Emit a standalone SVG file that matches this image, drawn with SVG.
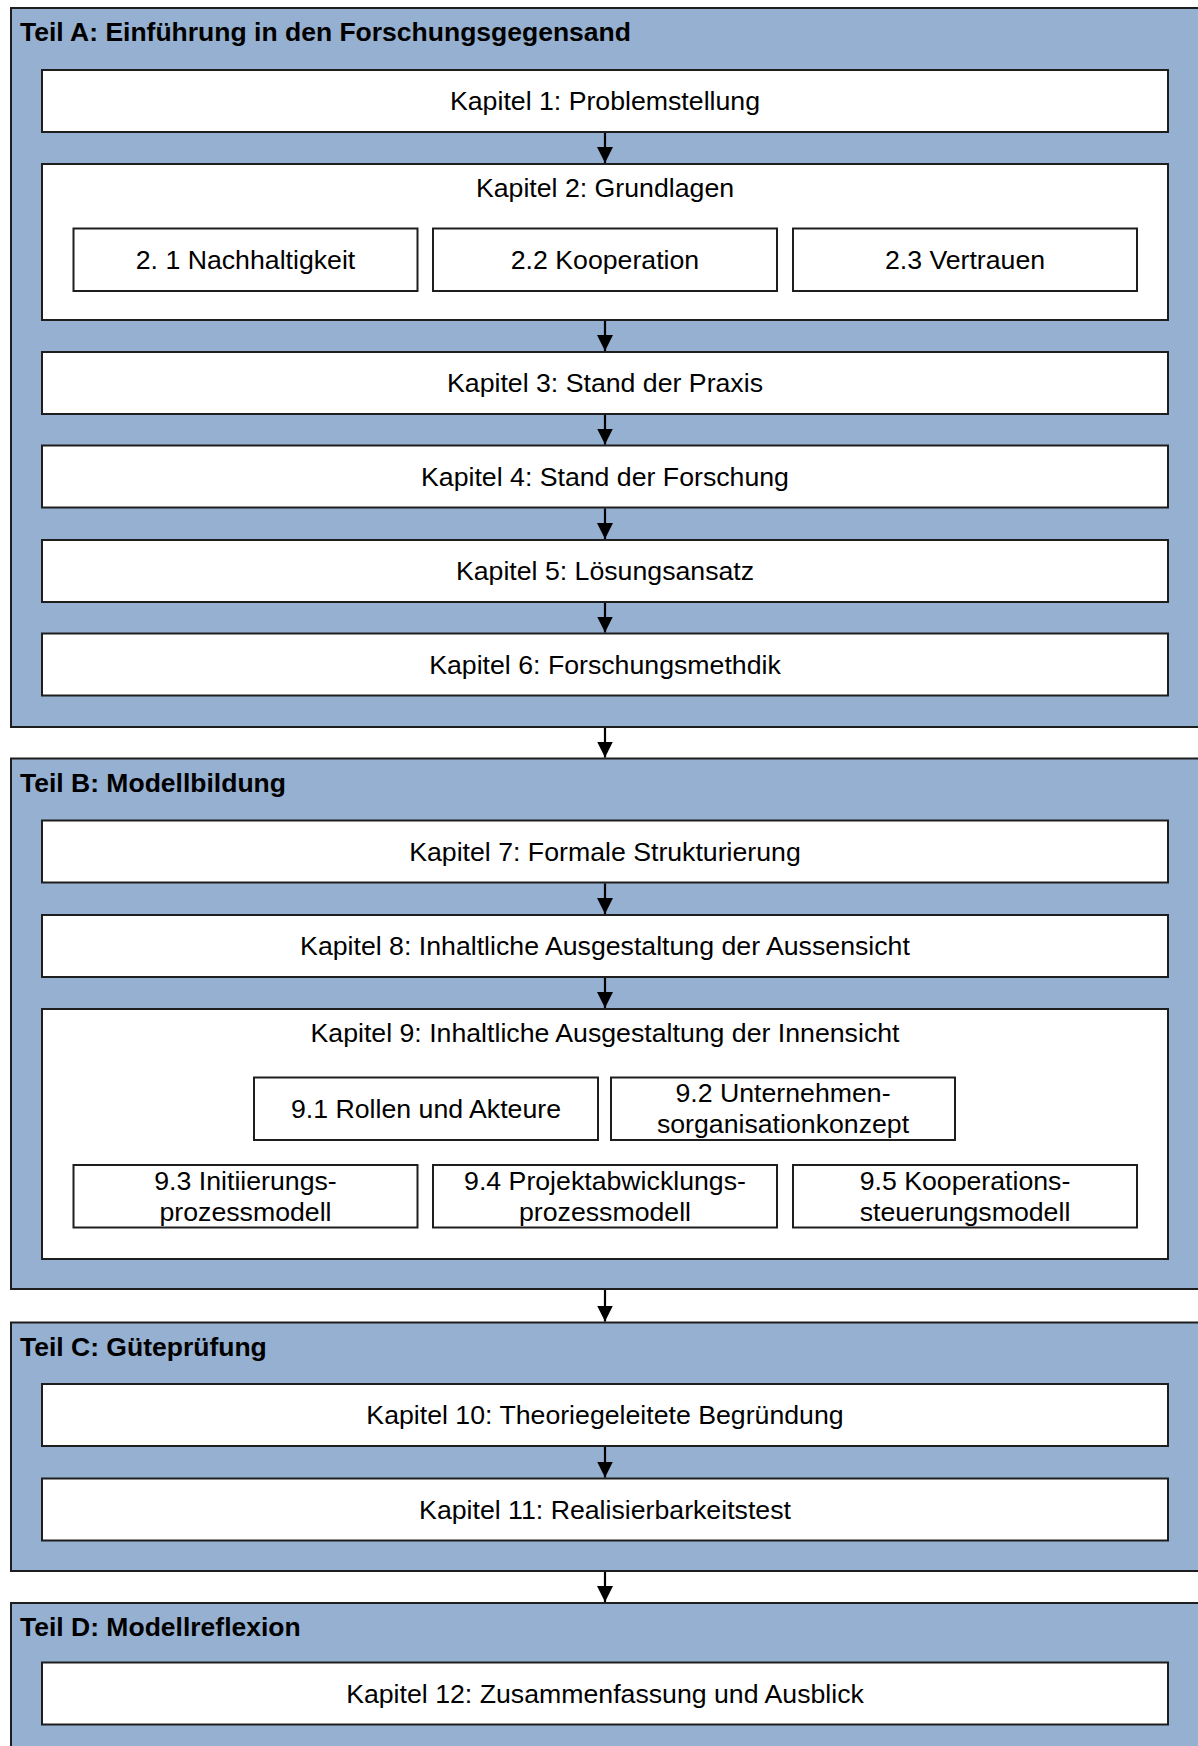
<svg xmlns="http://www.w3.org/2000/svg" width="1198" height="1746" viewBox="0 0 1198 1746">
  <defs>
    <style>
      .part { fill: #95b0d0; stroke: #1e1e1e; stroke-width: 2; }
      .box { fill: #ffffff; stroke: #1e1e1e; stroke-width: 2; }
      .title { font-family: "Liberation Sans", Arial, sans-serif; font-size: 26.5px; font-weight: bold; fill: #000; }
      .lbl { font-family: "Liberation Sans", Arial, sans-serif; font-size: 26.7px; fill: #000; text-anchor: middle; }
      .conn { stroke: #000; stroke-width: 2.2; fill: none; marker-end: url(#arrow); }
    </style>
    <marker id="arrow" viewBox="0 0 16 16" refX="16" refY="8" markerWidth="16" markerHeight="16" markerUnits="userSpaceOnUse" orient="auto">
      <path d="M0,0 L16,8 L0,16 Z" fill="#000"/>
    </marker>
  </defs>
  <rect width="1198" height="1746" fill="#ffffff"/>

  <!-- Teil A -->
  <g id="teil-a">
    <rect class="part" x="11" y="8" width="1200" height="719"/>
    <text class="title" x="20" y="41">Teil A: Einführung in den Forschungsgegensand</text>
  </g>
  <g id="kap1">
    <rect class="box" x="42" y="70" width="1126" height="62"/>
    <text class="lbl" x="605" y="110">Kapitel 1: Problemstellung</text>
  </g>
  <g id="kap2">
    <rect class="box" x="42" y="164" width="1126" height="156"/>
    <text class="lbl" x="605" y="197">Kapitel 2: Grundlagen</text>
  </g>
  <g id="kap2-1">
    <rect class="box" x="73.5" y="228.5" width="344" height="62.5"/>
    <text class="lbl" x="245.5" y="269">2. 1 Nachhaltigkeit</text>
  </g>
  <g id="kap2-2">
    <rect class="box" x="433" y="228.5" width="344" height="62.5"/>
    <text class="lbl" x="605" y="269">2.2 Kooperation</text>
  </g>
  <g id="kap2-3">
    <rect class="box" x="793" y="228.5" width="344" height="62.5"/>
    <text class="lbl" x="965" y="269">2.3 Vertrauen</text>
  </g>
  <g id="kap3">
    <rect class="box" x="42" y="352" width="1126" height="62"/>
    <text class="lbl" x="605" y="392">Kapitel 3: Stand der Praxis</text>
  </g>
  <g id="kap4">
    <rect class="box" x="42" y="445.5" width="1126" height="62"/>
    <text class="lbl" x="605" y="485.5">Kapitel 4: Stand der Forschung</text>
  </g>
  <g id="kap5">
    <rect class="box" x="42" y="540" width="1126" height="62"/>
    <text class="lbl" x="605" y="580">Kapitel 5: Lösungsansatz</text>
  </g>
  <g id="kap6">
    <rect class="box" x="42" y="633.5" width="1126" height="62"/>
    <text class="lbl" x="605" y="673.5">Kapitel 6: Forschungsmethdik</text>
  </g>

  <!-- Teil B -->
  <g id="teil-b">
    <rect class="part" x="11" y="758.5" width="1200" height="530.5"/>
    <text class="title" x="20" y="791.5">Teil B: Modellbildung</text>
  </g>
  <g id="kap7">
    <rect class="box" x="42" y="820.5" width="1126" height="62"/>
    <text class="lbl" x="605" y="860.5">Kapitel 7: Formale Strukturierung</text>
  </g>
  <g id="kap8">
    <rect class="box" x="42" y="915" width="1126" height="62"/>
    <text class="lbl" x="605" y="955">Kapitel 8: Inhaltliche Ausgestaltung der Aussensicht</text>
  </g>
  <g id="kap9">
    <rect class="box" x="42" y="1009" width="1126" height="250"/>
    <text class="lbl" x="605" y="1042">Kapitel 9: Inhaltliche Ausgestaltung der Innensicht</text>
  </g>
  <g id="kap9-1">
    <rect class="box" x="254" y="1077.5" width="344" height="62.5"/>
    <text class="lbl" x="426" y="1117.5">9.1 Rollen und Akteure</text>
  </g>
  <g id="kap9-2">
    <rect class="box" x="611" y="1077.5" width="344" height="62.5"/>
    <text class="lbl" x="783" y="1101.5">9.2 Unternehmen-</text>
    <text class="lbl" x="783" y="1133">sorganisationkonzept</text>
  </g>
  <g id="kap9-3">
    <rect class="box" x="73.5" y="1165" width="344" height="62.5"/>
    <text class="lbl" x="245.5" y="1189.5">9.3 Initiierungs-</text>
    <text class="lbl" x="245.5" y="1220.5">prozessmodell</text>
  </g>
  <g id="kap9-4">
    <rect class="box" x="433" y="1165" width="344" height="62.5"/>
    <text class="lbl" x="605" y="1189.5">9.4 Projektabwicklungs-</text>
    <text class="lbl" x="605" y="1220.5">prozessmodell</text>
  </g>
  <g id="kap9-5">
    <rect class="box" x="793" y="1165" width="344" height="62.5"/>
    <text class="lbl" x="965" y="1189.5">9.5 Kooperations-</text>
    <text class="lbl" x="965" y="1220.5">steuerungsmodell</text>
  </g>

  <!-- Teil C -->
  <g id="teil-c">
    <rect class="part" x="11" y="1322.5" width="1200" height="248.5"/>
    <text class="title" x="20" y="1355.5">Teil C: Güteprüfung</text>
  </g>
  <g id="kap10">
    <rect class="box" x="42" y="1384" width="1126" height="62"/>
    <text class="lbl" x="605" y="1424">Kapitel 10: Theoriegeleitete Begründung</text>
  </g>
  <g id="kap11">
    <rect class="box" x="42" y="1478.5" width="1126" height="62"/>
    <text class="lbl" x="605" y="1518.5">Kapitel 11: Realisierbarkeitstest</text>
  </g>

  <!-- Teil D -->
  <g id="teil-d">
    <rect class="part" x="11" y="1603" width="1200" height="160"/>
    <text class="title" x="20" y="1636">Teil D: Modellreflexion</text>
  </g>
  <g id="kap12">
    <rect class="box" x="42" y="1662.5" width="1126" height="62"/>
    <text class="lbl" x="605" y="1702.5">Kapitel 12: Zusammenfassung und Ausblick</text>
  </g>

  <!-- connectors -->
  <g id="connectors">
    <line class="conn" x1="605" y1="133" x2="605" y2="163"/>
    <line class="conn" x1="605" y1="321" x2="605" y2="351"/>
    <line class="conn" x1="605" y1="415" x2="605" y2="444.5"/>
    <line class="conn" x1="605" y1="508.5" x2="605" y2="539"/>
    <line class="conn" x1="605" y1="603" x2="605" y2="632.5"/>
    <line class="conn" x1="605" y1="728" x2="605" y2="757.5"/>
    <line class="conn" x1="605" y1="883.5" x2="605" y2="914"/>
    <line class="conn" x1="605" y1="978" x2="605" y2="1008"/>
    <line class="conn" x1="605" y1="1290" x2="605" y2="1321.5"/>
    <line class="conn" x1="605" y1="1447" x2="605" y2="1477.5"/>
    <line class="conn" x1="605" y1="1572" x2="605" y2="1602"/>
  </g>
</svg>
